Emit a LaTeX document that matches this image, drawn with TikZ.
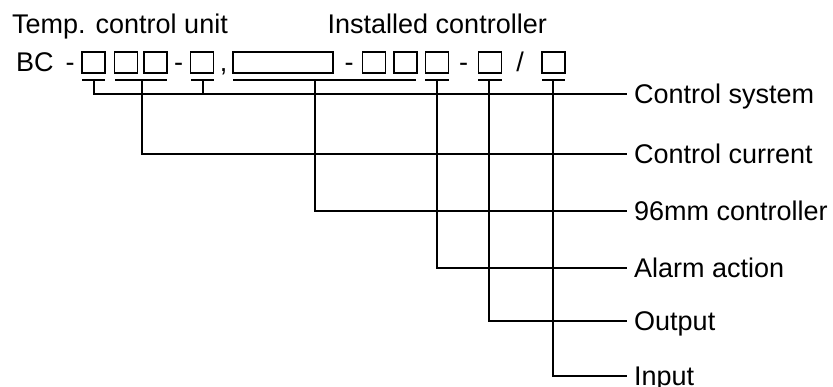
\documentclass[tikz,border=0pt]{standalone}
\usepackage{fontspec}
\setmainfont{Liberation Sans}
\begin{document}
\begin{tikzpicture}[x=1pt,y=-1pt,
  every node/.style={inner sep=0pt, font=\fontsize{27}{32}\selectfont},
  slot/.style={draw, line width=1.6pt, minimum width=23pt, minimum height=21pt},
  wideslot/.style={slot, minimum width=100pt},
  sign/.style={anchor=base},
  title/.style={anchor=base west},
  field/.style={anchor=west, inner xsep=7pt, text height=19.3pt, text depth=0pt},
  lead/.style={line width=1.8pt},
]
\useasboundingbox (0,0) rectangle (833,387);

% headings
\node[title] (tcu) at (12,34) {Temp. control unit};
\node[title] (ic)  at (327.5,34) {Installed controller};

% model code: BC-[][][]-[],[____]-[][][]-[]/[]
\node[title] (bc) at (16,72) {BC};
\node[sign] (d1) at (70,72) {-};
\node[slot] (b1) at (93.5,62.5) {};
\node[slot] (b2) at (126,62.5) {};
\node[slot] (b3) at (155.5,62.5) {};
\node[sign] (d2) at (178.5,72) {-};
\node[slot] (b4) at (202,62.5) {};
\node[sign] (cm) at (223.5,72) {,};
\node[wideslot] (bw) at (283,62.5) {};
\node[sign] (d3) at (349,72) {-};
\node[slot] (b5) at (374,62.5) {};
\node[slot] (b6) at (405.5,62.5) {};
\node[slot] (b7) at (437,62.5) {};
\node[sign] (d4) at (463.5,72) {-};
\node[slot] (b8) at (490,62.5) {};
\node[sign] (sl) at (520,72) {/};
\node[slot] (b9) at (553.5,62.5) {};

% field names
\node[field] (cs) at (627,94)  {Control system};
\node[field] (cc) at (627,154) {Control current};
\node[field] (mm) at (627,211) {96mm controller};
\node[field] (aa) at (627,268) {Alarm action};
\node[field] (op) at (627,321) {Output};
\node[field] (in) at (627,376) {Input};

% underlines grouping the slots
\draw[lead] (82,80) -- (105,80);
\draw[lead] (115,80) -- (167,80);
\draw[lead] (191,80) -- (214,80);
\draw[lead] (233,80) -- (416,80);
\draw[lead] (425,80) -- (449,80);
\draw[lead] (478,80) -- (502,80);
\draw[lead] (542,80) -- (565,80);

% tap points on the underlines
\coordinate (u1)  at (94,80);
\coordinate (u23) at (142,80);
\coordinate (u4)  at (203,80);
\coordinate (uw)  at (315,80);
\coordinate (u7)  at (437,80);
\coordinate (u8)  at (489,80);
\coordinate (u9)  at (553,80);

% leaders to the field names
\draw[lead] (u1) |- (cs.west);
\draw[lead] (u4) -- (u4 |- cs.west);
\draw[lead] (u23) |- (cc.west);
\draw[lead] (uw) |- (mm.west);
\draw[lead] (u7) |- (aa.west);
\draw[lead] (u8) |- (op.west);
\draw[lead] (u9) |- (in.west);
\end{tikzpicture}
\end{document}
